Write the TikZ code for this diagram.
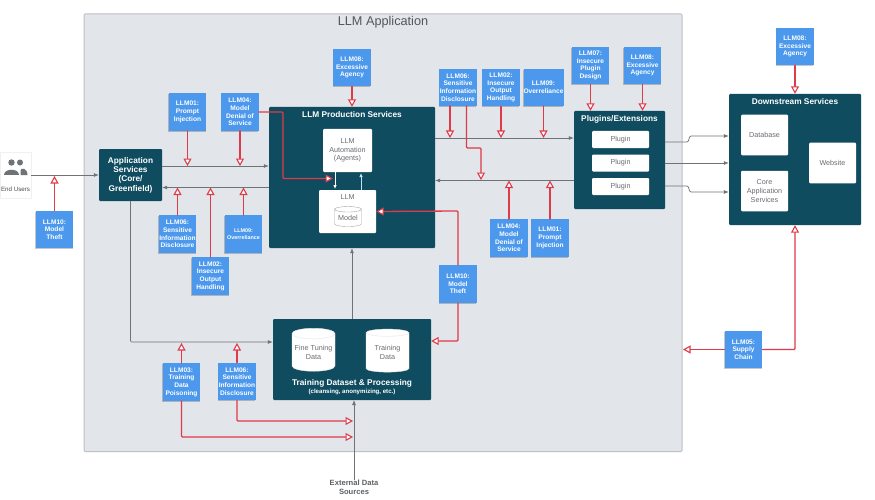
\documentclass[tikz,border=0pt]{standalone}
\usepackage{fontspec}
\setmainfont{Liberation Sans}
\usetikzlibrary{arrows.meta,shapes.geometric,shadows}
\definecolor{framefill}{HTML}{E2E5EA}
\definecolor{framedraw}{HTML}{BEC0C4}
\definecolor{darkteal}{HTML}{0F4C60}
\definecolor{noteblue}{HTML}{4C98EC}
\definecolor{alertred}{HTML}{DF3A48}
\definecolor{flowgray}{HTML}{6E7378}
\definecolor{labelgray}{HTML}{686C72}
\tikzset{
notebox/.style={fill=noteblue,text=white,font=\fontsize{6.6}{7.7}\selectfont\bfseries,align=center,minimum width=37.5pt,minimum height=37.5pt,inner sep=0pt,drop shadow={shadow xshift=-0.6pt,shadow yshift=-1pt,fill=black,opacity=.22}},
darkbox/.style={fill=darkteal,rounded corners=1pt,inner sep=0pt},
whitebox/.style={fill=white,rounded corners=1pt,inner sep=0pt,text=labelgray,font=\fontsize{7.2}{8.6}\selectfont,align=center},
titletext/.style={text=white,font=\fontsize{8.3}{9.5}\selectfont\bfseries,align=center,inner sep=0pt},
drum/.style={cylinder,shape border rotate=90,aspect=0.28,fill=white,draw=#1,line width=0.4pt,inner sep=0pt,text=labelgray,font=\fontsize{7.2}{8.6}\selectfont,align=center},
redline/.style={draw=alertred,line width=1.3pt,rounded corners=1pt,-{Triangle[open,fill=white,length=7.5pt,width=8pt,line width=1.1pt]}},
grayline/.style={draw=flowgray,line width=0.7pt,rounded corners=1pt,-{Latex[length=5pt,width=4pt]}},
}
\begin{document}
\begin{tikzpicture}[line cap=round,line join=round,x=1pt,y=-1pt]
\useasboundingbox (0,0) rectangle (875,500);
\fill[white] (0,0) rectangle (875,500);
\draw[fill=framefill,draw=framedraw,line width=1pt,rounded corners=1pt] (84,14) rectangle (682,451.5);
\node[text=labelgray!80!black,font=\fontsize{12.7}{14}\selectfont,inner sep=0pt] (apptitle) at (383,22) {LLM Application};
\node[fill=white,draw=black!6,minimum width=31pt,minimum height=46pt,inner sep=0pt] (endusers) at (15.5,175) {};
\node[text=black!70,font=\fontsize{6.2}{7}\selectfont,inner sep=0pt] (endtext) at (15.5,189) {End Users};
\fill[flowgray] (11.5,162.5) circle (3.2);
\fill[flowgray] (20,162.5) circle (3);
\fill[flowgray] (3.5,175) .. controls (3.5,168) and (19,168) .. (19,175) -- cycle;
\fill[flowgray] (20.5,175) -- (20.5,170) .. controls (21,167.5) and (27.5,168) .. (27.5,175) -- cycle;
\node[darkbox,minimum width=63pt,minimum height=52pt,text=white,font=\fontsize{8.3}{9.4}\selectfont\bfseries,align=center] (appservices) at (130.5,175) {Application\\Services\\(Core/\\Greenfield)};
\node[darkbox,minimum width=166pt,minimum height=141pt] (production) at (352,177.5) {};
\node[titletext] (productiontitle) at (352,114.5) {LLM Production Services};
\node[whitebox,minimum width=49pt,minimum height=43pt] (automation) at (347.5,150.5) {LLM\\Automation\\(Agents)};
\node[whitebox,minimum width=57pt,minimum height=43pt] (llm) at (347.5,211.5) {};
\node[text=labelgray,font=\fontsize{7.2}{8}\selectfont,inner sep=0pt] (llmtext) at (347.5,197.5) {LLM};
\node[drum=black!35,minimum width=27pt,minimum height=20pt] (model) at (348,218) {Model};
\node[darkbox,minimum width=158pt,minimum height=81pt] (training) at (352,359.5) {};
\node[drum=black!10,minimum width=43pt,minimum height=43pt] (finetuning) at (313.5,352.5) {Fine Tuning\\Data};
\node[drum=black!10,minimum width=43pt,minimum height=43pt] (trainingdata) at (387.5,352.5) {Training\\Data};
\node[titletext] (trainingtitle) at (352,383) {Training Dataset \& Processing};
\node[titletext,font=\fontsize{6.1}{7}\selectfont\bfseries] (trainingsub) at (352,392) {(cleansing, anonymizing, etc.)};
\node[darkbox,minimum width=91pt,minimum height=98pt] (plugins) at (619.5,160) {};
\node[titletext] (pluginstitle) at (619.5,119) {Plugins/Extensions};
\node[whitebox,minimum width=57pt,minimum height=17pt] (pluginone) at (620.5,139.5) {Plugin};
\node[whitebox,minimum width=57pt,minimum height=17pt] (plugintwo) at (620.5,163) {Plugin};
\node[whitebox,minimum width=57pt,minimum height=17pt] (pluginthree) at (620.5,186.5) {Plugin};
\node[darkbox,minimum width=132pt,minimum height=131pt] (downstream) at (795,159.5) {};
\node[titletext] (downstreamtitle) at (795,102) {Downstream Services};
\node[whitebox,minimum width=47pt,minimum height=40.5pt] (database) at (764.5,135) {Database};
\node[whitebox,minimum width=47pt,minimum height=40.5pt] (coreservices) at (764.5,191) {Core\\Application\\Services};
\node[whitebox,minimum width=47pt,minimum height=40.5pt] (website) at (832.5,163) {Website};
\node[text=labelgray!90!black,font=\fontsize{7.6}{9.3}\selectfont\bfseries,align=center,inner sep=0pt] (external) at (354,487.5) {External Data\\Sources};
\coordinate (plugoutone) at (665,142);
\coordinate (plugouttwo) at (665,163);
\coordinate (plugoutthree) at (665,186);
\coordinate (rowin) at (0,166);
\coordinate (rowout) at (0,187.5);
\coordinate (rowright) at (0,138);
\coordinate (rowback) at (0,180.5);
\coordinate (rowtrain) at (0,342);
\draw[grayline] (endusers.east |- appservices.west) -- (appservices.west);
\draw[grayline] (appservices.east |- rowin) -- (production.west |- rowin);
\draw[grayline] (production.west |- rowout) -- (appservices.east |- rowout);
\draw[grayline] (production.east |- rowright) -- (plugins.west |- rowright);
\draw[grayline] (plugins.west |- rowback) -- (production.east |- rowback);
\draw[grayline] (plugoutone) -- (688,142) -- (690,136) -- (downstream.west |- 0,136);
\draw[grayline] (plugouttwo) -- (downstream.west |- plugouttwo);
\draw[grayline] (plugoutthree) -- (688,186) -- (690,192) -- (downstream.west |- 0,192);
\draw[grayline] (appservices.south) -- (appservices.south |- rowtrain) -- (training.west |- rowtrain);
\draw[grayline] (training.north) -- (production.south);
\draw[grayline] (external.north) -- (354,400);
\draw[white,line width=0.9pt,-{Latex[length=4pt,width=3.5pt]}] (335,172) -- (335,189);
\draw[white!70!noteblue,line width=0.9pt,-{Latex[length=4pt,width=3.5pt]}] (361,190) -- (361,173);
\node[notebox] (theftusers) at (54.5,229.5) {LLM10:\\Model\\Theft};
\node[notebox] (promptapp) at (187.5,112) {LLM01:\\Prompt\\Injection};
\node[notebox] (denialapp) at (240,112) {LLM04:\\Model\\Denial of\\Service};
\node[notebox] (agencyprod) at (352,67.5) {LLM08:\\Excessive\\Agency};
\node[notebox] (disclosureapp) at (177.5,234) {LLM06:\\Sensitive\\Information\\Disclosure};
\node[notebox,font=\fontsize{5.4}{6.5}\selectfont\bfseries] (overrelianceapp) at (243.5,234) {LLM09:\\Overreliance};
\node[notebox] (outputapp) at (210.5,276) {LLM02:\\Insecure\\Output\\Handling};
\node[notebox] (poisoning) at (181.5,382) {LLM03:\\Training\\Data\\Poisoning};
\node[notebox] (disclosuretrain) at (237,381.5) {LLM06:\\Sensitive\\Information\\Disclosure};
\node[notebox] (disclosureplug) at (458,87.5) {LLM06:\\Sensitive\\Information\\Disclosure};
\node[notebox] (outputplug) at (501,87.5) {LLM02:\\Insecure\\Output\\Handling};
\node[notebox] (overrelianceplug) at (543.5,87.5) {LLM09:\\Overreliance};
\node[notebox] (plugindesign) at (590.5,65.5) {LLM07:\\Insecure\\Plugin\\Design};
\node[notebox] (agencyplug) at (642.5,65.5) {LLM08:\\Excessive\\Agency};
\node[notebox] (agencydown) at (795,46.5) {LLM08:\\Excessive\\Agency};
\node[notebox] (denialplug) at (509,238) {LLM04:\\Model\\Denial of\\Service};
\node[notebox] (promptplug) at (550,238) {LLM01:\\Prompt\\Injection};
\node[notebox] (theftmodel) at (458,284) {LLM10:\\Model\\Theft};
\node[notebox] (supplychain) at (743.5,349.5) {LLM05:\\Supply\\Chain};
\draw[redline] (theftusers.north) -- (54.5,176);
\draw[redline] (promptapp.south) -- (promptapp.south |- rowin);
\draw[redline] (denialapp.south) -- (denialapp.south |- rowin);
\draw[redline] (denialapp.east) -- (283,112) -- (283,178.5) -- (333,178.5);
\draw[redline] (agencyprod.south) -- (production.north);
\draw[redline] (disclosureapp.north) -- (disclosureapp.north |- rowout);
\draw[redline] (outputapp.north) -- (outputapp.north |- rowout);
\draw[redline] (overrelianceapp.north) -- (overrelianceapp.north |- rowout);
\draw[redline] (poisoning.north) -- (181.5,343);
\draw[redline] (disclosuretrain.north) -- (237,343);
\draw[redline] (poisoning.south) -- (181.5,437) -- (353,437);
\draw[redline] (disclosuretrain.south) -- (237,421) -- (353,421);
\draw[redline] (450,106) -- (450,138);
\draw[redline] (466.5,106) -- (466.5,148) -- (481,148) -- (481,180);
\draw[redline] (outputplug.south) -- (outputplug.south |- rowright);
\draw[redline] (543.5,106) -- (543.5,138);
\draw[redline] (plugindesign.south) -- (plugindesign.south |- plugins.north);
\draw[redline] (agencyplug.south) -- (agencyplug.south |- plugins.north);
\draw[redline] (agencydown.south) -- (downstream.north);
\draw[redline] (denialplug.north) -- (denialplug.north |- rowback);
\draw[redline] (promptplug.north) -- (promptplug.north |- rowback);
\draw[redline] (theftmodel.north) -- (458,211) -- (llm.east);
\draw[redline] (theftmodel.south) -- (458,341) -- (training.east |- 0,341);
\draw[redline] (supplychain.west) -- (683,349.5);
\draw[redline] (supplychain.east) -- (795,349.5) -- (downstream.south);
\end{tikzpicture}
\end{document}
